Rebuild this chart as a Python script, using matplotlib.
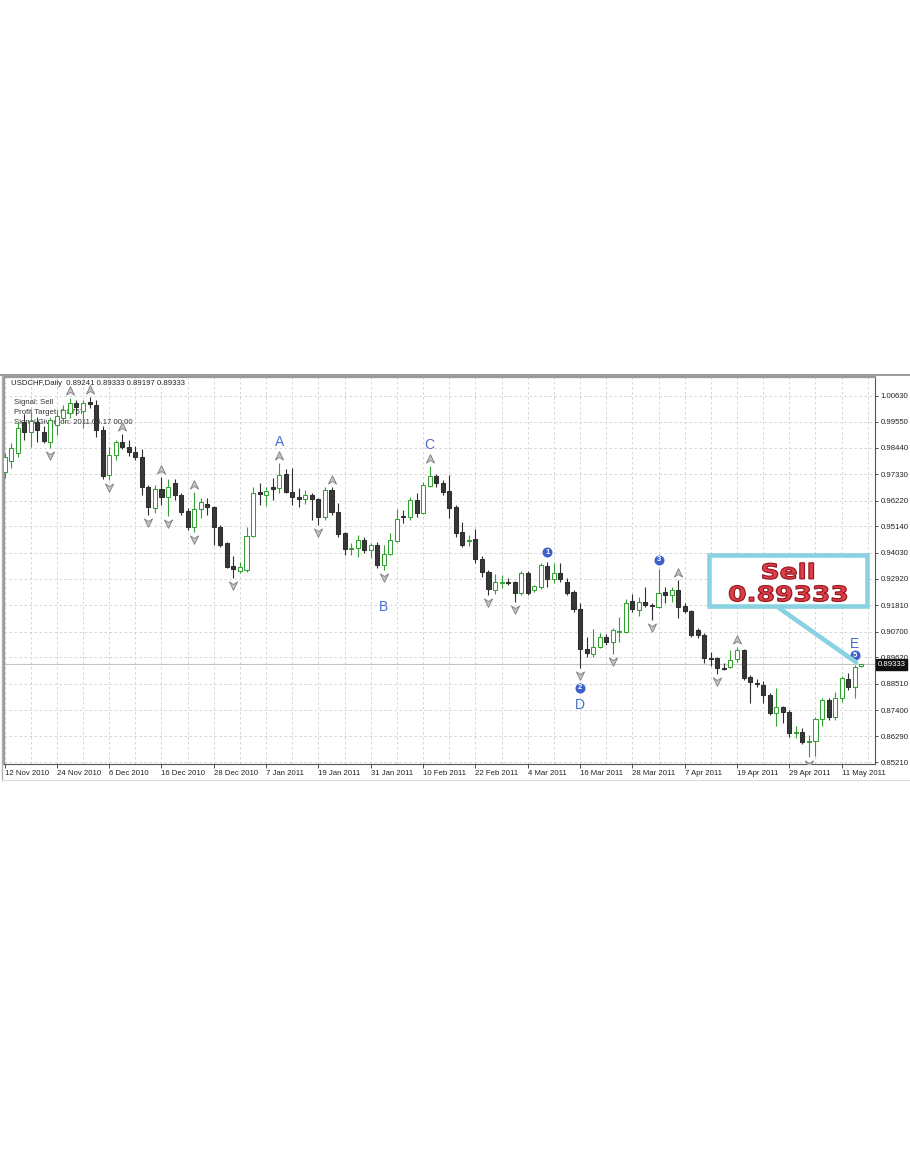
import matplotlib
matplotlib.use("Agg")
import matplotlib.pyplot as plt
import numpy as np
from matplotlib.path import Path
from matplotlib.patches import Rectangle, PathPatch
from matplotlib.lines import Line2D
from matplotlib.textpath import TextPath
from matplotlib.font_manager import FontProperties
from matplotlib.transforms import Affine2D, blended_transform_factory

plt.rcParams['font.family'] = ['Liberation Sans', 'DejaVu Sans']

# ---------------- data ----------------
title_text = "USDCHF,Daily  0.89241 0.89333 0.89197 0.89333"
comment_lines = ["Signal: Sell", "Profit Target: 0.8757", "Signal Given on: 2011.05.17 00:00"]

opens = [
    0.9743, 0.9789, 0.9823, 0.9954, 0.9911, 0.9954, 0.9911, 0.9869,
    0.9941, 0.9970, 0.9991, 1.0034, 1.0000, 1.0038, 1.0025, 0.9920,
    0.9730, 0.9814, 0.9869, 0.9848, 0.9827, 0.9806, 0.9680, 0.9591,
    0.9671, 0.9637, 0.9696, 0.9646, 0.9579, 0.9511, 0.9587, 0.9608,
    0.9595, 0.9511, 0.9444, 0.9347, 0.9326, 0.9330, 0.9473, 0.9659,
    0.9646, 0.9680, 0.9675, 0.9734, 0.9659, 0.9637, 0.9629, 0.9646,
    0.9629, 0.9553, 0.9667, 0.9574, 0.9486, 0.9418, 0.9423, 0.9456,
    0.9414, 0.9435, 0.9351, 0.9397, 0.9452, 0.9557, 0.9553, 0.9625,
    0.9570, 0.9684, 0.9726, 0.9696, 0.9663, 0.9595, 0.9490, 0.9452,
    0.9461, 0.9376, 0.9322, 0.9246, 0.9275, 0.9279, 0.9279, 0.9233,
    0.9317, 0.9246, 0.9258, 0.9347, 0.9292, 0.9317, 0.9279, 0.9237,
    0.9166, 0.8997, 0.8976, 0.9006, 0.9048, 0.9027, 0.9069, 0.9069,
    0.9199, 0.9161, 0.9195, 0.9183, 0.9174, 0.9237, 0.9225, 0.9246,
    0.9178, 0.9157, 0.9077, 0.9056, 0.8959, 0.8959, 0.8917, 0.8921,
    0.8955, 0.8993, 0.8879, 0.8854, 0.8845, 0.8803, 0.8727, 0.8753,
    0.8732, 0.8643, 0.8647, 0.8605, 0.8610, 0.8702, 0.8782, 0.8711,
    0.8791, 0.8871, 0.8837, 0.89241]
highs = [
    0.9823, 0.9865, 0.9954, 0.9987, 0.9996, 0.9975, 0.9937, 0.9975,
    1.0004, 1.0025, 1.0055, 1.0046, 1.0046, 1.0059, 1.0046, 0.9937,
    0.9848, 0.9878, 0.9903, 0.9878, 0.9852, 0.9840, 0.9688, 0.9688,
    0.9722, 0.9713, 0.9713, 0.9654, 0.9591, 0.9659, 0.9633, 0.9633,
    0.9600, 0.9520, 0.9448, 0.9389, 0.9364, 0.9511, 0.9680, 0.9696,
    0.9680, 0.9718, 0.9781, 0.9755, 0.9760, 0.9675, 0.9667, 0.9654,
    0.9633, 0.9680, 0.9680, 0.9612, 0.9490, 0.9444, 0.9477, 0.9469,
    0.9444, 0.9448, 0.9435, 0.9486, 0.9587, 0.9583, 0.9637, 0.9654,
    0.9701, 0.9768, 0.9734, 0.9709, 0.9730, 0.9604, 0.9532, 0.9477,
    0.9503, 0.9389, 0.9330, 0.9313, 0.9309, 0.9296, 0.9284, 0.9326,
    0.9326, 0.9267, 0.9359, 0.9364, 0.9359, 0.9359, 0.9296, 0.9246,
    0.9191, 0.9048, 0.9081, 0.9065, 0.9060, 0.9086, 0.9132, 0.9208,
    0.9229, 0.9216, 0.9258, 0.9191, 0.9334, 0.9258, 0.9258, 0.9288,
    0.9191, 0.9161, 0.9086, 0.9065, 0.8984, 0.8963, 0.8938, 0.8993,
    0.9006, 0.8997, 0.8888, 0.8871, 0.8862, 0.8812, 0.8833, 0.8757,
    0.8740, 0.8673, 0.8664, 0.8635, 0.8711, 0.8791, 0.8791, 0.8816,
    0.8883, 0.8896, 0.8930, 0.89333]
lows = [
    0.9718, 0.9760, 0.9806, 0.9878, 0.9848, 0.9869, 0.9865, 0.9844,
    0.9899, 0.9949, 0.9970, 0.9983, 0.9928, 1.0012, 0.9890, 0.9713,
    0.9709, 0.9793, 0.9840, 0.9810, 0.9793, 0.9646, 0.9562, 0.9570,
    0.9604, 0.9557, 0.9625, 0.9562, 0.9498, 0.9490, 0.9549, 0.9562,
    0.9435, 0.9427, 0.9338, 0.9296, 0.9317, 0.9322, 0.9469, 0.9604,
    0.9600, 0.9625, 0.9654, 0.9654, 0.9604, 0.9595, 0.9608, 0.9541,
    0.9520, 0.9541, 0.9562, 0.9469, 0.9393, 0.9393, 0.9385, 0.9402,
    0.9381, 0.9338, 0.9330, 0.9393, 0.9448, 0.9528, 0.9541, 0.9553,
    0.9566, 0.9680, 0.9680, 0.9646, 0.9549, 0.9469, 0.9427, 0.9431,
    0.9359, 0.9300, 0.9225, 0.9229, 0.9254, 0.9267, 0.9195, 0.9225,
    0.9225, 0.9237, 0.9250, 0.9258, 0.9275, 0.9279, 0.9225, 0.9153,
    0.8917, 0.8963, 0.8963, 0.9001, 0.9014, 0.8976, 0.9027, 0.9065,
    0.9153, 0.9136, 0.9174, 0.9119, 0.9170, 0.9191, 0.9195, 0.9128,
    0.9149, 0.9048, 0.9043, 0.8938, 0.8925, 0.8892, 0.8909, 0.8917,
    0.8942, 0.8867, 0.8770, 0.8837, 0.8770, 0.8719, 0.8673, 0.8685,
    0.8626, 0.8622, 0.8597, 0.8542, 0.8546, 0.8673, 0.8698, 0.8698,
    0.8774, 0.8824, 0.8791, 0.89197]
closes = [
    0.9806, 0.9844, 0.9928, 0.9911, 0.9958, 0.9920, 0.9873, 0.9962,
    0.9979, 1.0004, 1.0034, 1.0017, 1.0034, 1.0029, 0.9920, 0.9726,
    0.9814, 0.9869, 0.9848, 0.9827, 0.9806, 0.9680, 0.9595, 0.9671,
    0.9637, 0.9680, 0.9646, 0.9574, 0.9511, 0.9587, 0.9616, 0.9595,
    0.9511, 0.9435, 0.9343, 0.9334, 0.9343, 0.9473, 0.9654, 0.9650,
    0.9663, 0.9671, 0.9730, 0.9659, 0.9637, 0.9629, 0.9646, 0.9629,
    0.9553, 0.9667, 0.9574, 0.9482, 0.9418, 0.9423, 0.9456, 0.9414,
    0.9435, 0.9351, 0.9397, 0.9456, 0.9545, 0.9553, 0.9625, 0.9570,
    0.9688, 0.9726, 0.9696, 0.9659, 0.9591, 0.9486, 0.9435, 0.9456,
    0.9376, 0.9322, 0.9250, 0.9279, 0.9279, 0.9275, 0.9233, 0.9317,
    0.9233, 0.9263, 0.9351, 0.9292, 0.9317, 0.9292, 0.9233, 0.9166,
    0.8997, 0.8980, 0.9006, 0.9048, 0.9027, 0.9077, 0.9073, 0.9191,
    0.9166, 0.9195, 0.9183, 0.9178, 0.9233, 0.9225, 0.9246, 0.9174,
    0.9157, 0.9056, 0.9056, 0.8959, 0.8955, 0.8917, 0.8913, 0.8951,
    0.8993, 0.8875, 0.8858, 0.8850, 0.8803, 0.8727, 0.8753, 0.8732,
    0.8643, 0.8647, 0.8605, 0.8610, 0.8702, 0.8782, 0.8711, 0.8791,
    0.8875, 0.8837, 0.8921, 0.89333]

date_labels = ["12 Nov 2010", "24 Nov 2010", "6 Dec 2010", "16 Dec 2010", "28 Dec 2010",
               "7 Jan 2011", "19 Jan 2011", "31 Jan 2011", "10 Feb 2011", "22 Feb 2011",
               "4 Mar 2011", "16 Mar 2011", "28 Mar 2011", "7 Apr 2011", "19 Apr 2011",
               "29 Apr 2011", "11 May 2011"]
bars_per_label = 8
bars_per_grid = 4
price_ticks = [1.00630, 0.99550, 0.98440, 0.97330, 0.96220, 0.95140, 0.94030, 0.92920,
               0.91810, 0.90700, 0.89620, 0.88510, 0.87400, 0.86290, 0.85210]

fractal_up_bars = [10, 13, 18, 24, 29, 42, 50, 65, 103, 112]
fractal_down_bars = [7, 16, 22, 25, 29, 35, 48, 58, 74, 78, 88, 93, 99, 109, 123]
wave_letters = ["A", "B", "C", "D", "E"]
wave_bars = [42, 58, 65, 88, 130]
wave_sides = ["high", "low", "high", "low", "high"]
count_labels = ["1", "2", "3", "5"]
count_bars = [83, 88, 100, 130]
count_sides = ["high", "low", "high", "high"]
signal_price = 0.89333
signal_text = ["Sell", "0.89333"]

# ---------------- figure ----------------
W, H = 910, 1155
fig = plt.figure(figsize=(W / 100, H / 100), dpi=100)
fig.patch.set_facecolor("white")
ax = fig.add_axes([4 / W, 1 - 764 / H, 871 / W, 387 / H])
ax.set_facecolor("white")

o = np.array(opens); h = np.array(highs); l = np.array(lows); c = np.array(closes)
idx = np.arange(len(o))
up = c >= o
GREEN = "#34a034"
DARK = "#2e2e2e"
edge = np.where(up, GREEN, DARK)
fill = np.where(up, "white", "#383838")

ax.vlines(idx, l, h, colors=edge, linewidth=0.8, zorder=3)
body_h = np.maximum(np.abs(c - o), 0.00006)
ax.bar(idx, body_h, bottom=np.minimum(o, c), width=0.62, color=fill,
       edgecolor=edge, linewidth=0.75, zorder=4)

# fractal arrows
up_path = Path([(0, 1.0), (0.85, -0.75), (0, -0.2), (-0.85, -0.75), (0, 1.0)],
               [Path.MOVETO, Path.LINETO, Path.LINETO, Path.LINETO, Path.CLOSEPOLY])
down_path = Path([(0, -1.0), (0.85, 0.75), (0, 0.2), (-0.85, 0.75), (0, -1.0)],
                 [Path.MOVETO, Path.LINETO, Path.LINETO, Path.LINETO, Path.CLOSEPOLY])
fu = np.array(fractal_up_bars); fd = np.array(fractal_down_bars)
ax.scatter(fu, h[fu] + 0.0029, marker=up_path, s=48, c="#c4c4c4",
           edgecolors="#7c7c7c", linewidths=0.6, zorder=5)
ax.scatter(fd, l[fd] - 0.0029, marker=down_path, s=48, c="#c4c4c4",
           edgecolors="#7c7c7c", linewidths=0.6, zorder=5)

# wave letters
BLUE = "#4a6bd0"
for lab, b, side in zip(wave_letters, wave_bars, wave_sides):
    y = h[b] + 0.0088 if side == "high" else l[b] - 0.0154
    ax.text(b, y, lab, ha="center", va="center", color=BLUE, fontsize=10, zorder=6)
for lab, b, side in zip(count_labels, count_bars, count_sides):
    y = h[b] + 0.0040 if side == "high" else l[b] - 0.0084
    ax.scatter([b], [y], s=52, c="#3d5fcc", zorder=6, linewidths=0)
    ax.text(b, y, lab, ha="center", va="center", color="white", fontsize=5.5,
            fontweight="bold", zorder=7)

# bid line
ax.axhline(signal_price, color="#c4c4c4", linewidth=0.8, zorder=1)

# axes limits and ticks
ax.set_xlim(-0.08, 133.1)
ax.set_ylim(0.85126, 1.01430)
ax.set_xticks(np.arange(len(date_labels)) * bars_per_label)
ax.set_xticklabels(date_labels)
for t in ax.get_xticklabels():
    t.set_ha("left")
ax.set_xticks(np.arange(0, len(o) + 1, bars_per_grid), minor=True)
ax.yaxis.tick_right()
ax.set_yticks(price_ticks)
ax.set_yticklabels([f"{v:.5f}" for v in price_ticks])
ax.tick_params(axis="x", which="major", direction="out", length=2.8, width=0.6,
               color="#333333", labelsize=5.6, pad=1.2, labelcolor="#222222")
ax.tick_params(axis="x", which="minor", length=0)
ax.tick_params(axis="y", direction="out", length=2.5, width=0.6, color="#333333",
               labelsize=5.6, pad=1.5, labelcolor="#222222")
ax.grid(True, which="both", axis="x", color="#cfcfcf", linestyle=(0, (3, 3)), linewidth=0.6, zorder=0)
ax.grid(True, which="major", axis="y", color="#cfcfcf", linestyle=(0, (3, 3)), linewidth=0.6, zorder=0)
ax.set_axisbelow(True)

for s in ["top", "left"]:
    ax.spines[s].set_color("#9a9a9a")
    ax.spines[s].set_linewidth(1.6)
for s in ["right", "bottom"]:
    ax.spines[s].set_color("#555555")
    ax.spines[s].set_linewidth(0.8)

# current price label on the axis
bt = blended_transform_factory(ax.transAxes, ax.transData)
ax.text(1.003, signal_price, "0.89333", transform=bt, ha="left", va="center",
        fontsize=5.6, color="white", clip_on=False, zorder=8,
        bbox=dict(boxstyle="square,pad=0.25", fc="#111111", ec="#111111"))

# top-left texts
ax.text(7 / 871, (764 - 383.5) / 387, title_text, transform=ax.transAxes, fontsize=5.6,
        color="#222222", ha="left", va="center", zorder=2)
for k, line in enumerate(comment_lines):
    ax.text(10 / 871, (764 - 402 - 10 * k) / 387, line, transform=ax.transAxes,
            fontsize=5.6, color="#333333", ha="left", va="center", zorder=2)

# Sell callout
SKY = "#88d2e2"
box = Rectangle(((709 - 4) / 871, (764 - 606) / 387), (867 - 709) / 871, (606 - 555) / 387,
                transform=ax.transAxes, facecolor="white", edgecolor=SKY, linewidth=3.3,
                zorder=9)
ax.add_patch(box)
ax.annotate("", xy=(130.2, signal_price + 0.0008), xycoords="data",
            xytext=((779 - 4) / 871, (764 - 608) / 387), textcoords="axes fraction",
            arrowprops=dict(arrowstyle="-", color=SKY, lw=3.3, shrinkA=0, shrinkB=0),
            zorder=8)

fp = FontProperties(family="DejaVu Sans", weight="bold")
for txt, (cx, cy) in zip(signal_text, [(788, 571), (788, 593.5)]):
    tp = TextPath((0, 0), txt, size=1, prop=fp)
    ext = tp.get_extents()
    sx, sy = 26.5, 21.0
    tr = Affine2D().translate(-(ext.x0 + ext.x1) / 2, -(ext.y0 + ext.y1) / 2).scale(sx, sy) \
        .translate(cx, H - cy)
    patch = PathPatch(tp, transform=tr, facecolor="#d8414b", edgecolor="#9e1820",
                      linewidth=0.9, zorder=10)
    fig.add_artist(patch)

# window frame
fig.add_artist(Line2D([0, 1], [1 - 375 / H, 1 - 375 / H], transform=fig.transFigure,
                      color="#9a9a9a", linewidth=1.4))
fig.add_artist(Line2D([2 / W, 2 / W], [1 - 375 / H, 1 - 780 / H], transform=fig.transFigure,
                      color="#b0b0b0", linewidth=1.0))
fig.add_artist(Line2D([2 / W, 1], [1 - 780 / H, 1 - 780 / H], transform=fig.transFigure,
                      color="#dddddd", linewidth=0.8))

fig.savefig("out.png", dpi=100, facecolor="white")
